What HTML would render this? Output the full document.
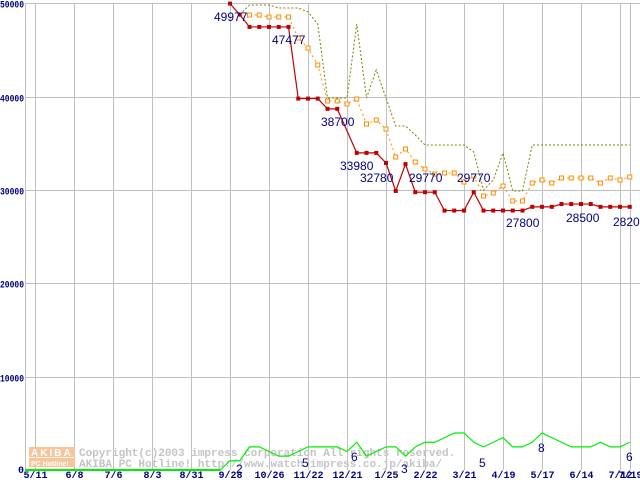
<!DOCTYPE html>
<html><head><meta charset="utf-8"><style>
body{margin:0;background:#fff;width:640px;height:480px;overflow:hidden}
svg{display:block}
.ax{font-family:"Liberation Mono",monospace;font-size:10px;font-weight:bold;fill:#000080}
.vl{font-family:"Liberation Sans",sans-serif;font-size:12px;fill:#000080}
.wm{font-family:"Liberation Mono",monospace;font-size:11px;font-weight:bold;fill:#c4c4c4}
</style></head><body>
<svg id="chart" width="640" height="480" xmlns="http://www.w3.org/2000/svg">
<g id="grid"></g>
<g id="wmk">
<rect x="29" y="447" width="46" height="10" fill="#f9c49a"/>
<rect x="29" y="458" width="46" height="9" fill="#f9c49a"/>
<text x="31" y="456" font-family="Liberation Sans,sans-serif" font-size="10" font-weight="bold" fill="#fff" letter-spacing="2">AKIBA</text>
<text x="31" y="466" font-family="Liberation Sans,sans-serif" font-size="7" font-weight="bold" fill="#fff">PC Hotline!</text>
<text class="wm" x="79" y="456">Copyright(c)2003 impress corporation All rights reserved.</text>
<text class="wm" x="79" y="467">AKIBA PC Hotline!  http://www.watch.impress.co.jp/akiba/</text>
</g>
<g id="series"></g>
<g id="labels"></g>
</svg>
<script>
const xTickLabels=["5/11","6/8","7/6","8/3","8/31","9/28","10/26","11/22","12/21","1/25","2/22","3/21","4/19","5/17","6/14","7/12","7/19"];
const xTickWeeks=[-20,-16,-12,-8,-4,0,4,8,12,16,20,24,28,32,36,40,41];
const yTicks=[0,10000,20000,30000,40000,50000];
const minPrice=[49977,48800,47477,47477,47477,47477,47477,39800,39800,39800,38700,38700,null,33980,33980,33980,32900,29900,32780,29770,29770,29770,27800,27800,27800,29770,27800,27800,27800,27800,27800,28200,28200,28200,28500,28500,28500,28500,28200,28200,28200,28200];
const avgPrice=[null,null,48757,48757,48543,48543,48543,46290,45220,43400,39540,39540,39220,39750,37080,37500,36540,33540,34400,33000,32250,31720,31830,31830,30860,31500,29360,29680,30430,28830,28830,30750,31080,30750,31290,31290,31290,31290,30750,31290,31080,31400];
const maxPrice=[null,48800,49830,49830,49830,49510,49510,49510,49080,47790,39860,39860,39860,47790,39860,42860,39860,36860,36860,35900,34830,34830,34830,34830,34830,34080,30000,31080,33970,29900,29900,34830,34830,34830,34830,34830,34830,34830,34830,34830,34830,34830];
const shopCount=[2,2,5,5,4,3,3,4,5,5,5,5,4,6,3,4,5,5,3,5,6,6,7,8,8,6,5,6,7,5,5,6,8,7,6,5,5,5,6,5,5,6];
const priceLabels=[[0,"49977",214,17],[2,"47477",272,40],[10,"38700",321,122],[13,"33980",340,166],[18,"32780",360,178],[19,"29770",409,178],[25,"29770",457,178],[28,"27800",506,223],[34,"28500",566,218],[41,"28200",613,222]];
const countLabels=[[1,236,469],[8,302,463],[13,351,457],[18,401,469],[26,479,463],[32,538,448],[41,626,457]];
const NS="http://www.w3.org/2000/svg";
const xw=i=>230+9.75*i, yv=v=>470-v*0.009332, yc=c=>470-c*4.625;
function mk(t,a,p){const e=document.createElementNS(NS,t);for(const k in a)e.setAttribute(k,a[k]);p.appendChild(e);return e;}
const grid=document.getElementById('grid'),ser=document.getElementById('series'),lab=document.getElementById('labels');
yTicks.forEach(v=>{const y=Math.round(yv(v))+0.5;
 if(v>0){const l=mk('line',{x1:25,x2:640,y1:y,y2:y,stroke:'#c0c0c0'},grid);
 
 }
 const attrs={x:24,y:v?y+4:473,class:'ax','text-anchor':'end'};
 if(v){attrs.textLength=24;attrs.lengthAdjust='spacingAndGlyphs';}
 const t=mk('text',attrs,grid);t.textContent=v;
 
 });
const lb=mk('line',{x1:25.5,x2:25.5,y1:4,y2:470,stroke:'#c0c0c0'},grid);


xTickWeeks.forEach((w,k)=>{const x=Math.round(xw(w))+0.5;
 const l=mk('line',{x1:x,x2:x,y1:4,y2:470,stroke:'#c0c0c0'},grid);
 
 
 const t=mk('text',{x:x,y:478,class:'ax','text-anchor':'middle'},grid);t.textContent=xTickLabels[k];
 
 });
function pts(arr,f){return arr.map((v,i)=>v==null?null:[xw(i),f(v)]).filter(p=>p);}
const gp=[[25,470],[xw(-1),470]].concat(pts(shopCount,yc));
const g=mk('polyline',{points:gp.map(p=>p.join(',')).join(' '),fill:'none',stroke:'#00ee00','stroke-width':1.2},ser);


const g0=mk('line',{x1:25,x2:xw(-1),y1:470,y2:470,stroke:'#00ee00','stroke-width':2},ser);


const mx=mk('polyline',{points:pts(maxPrice,yv).map(p=>p.join(',')).join(' '),fill:'none',stroke:'#808000','stroke-dasharray':'2,2'},ser);


const av=pts(avgPrice,yv);
const al=mk('polyline',{points:av.map(p=>p.join(',')).join(' '),fill:'none',stroke:'#ff8c00','stroke-dasharray':'2,3'},ser);


av.forEach(p=>{const r=mk('rect',{x:p[0]-2,y:p[1]-2,width:4,height:4,fill:'#fff',stroke:'#ff8c00'},ser);
 
 });
const mn=pts(minPrice,yv);
const ml=mk('polyline',{points:mn.map(p=>p.join(',')).join(' '),fill:'none',stroke:'#c00000','stroke-width':1.2},ser);


mn.forEach(p=>{const r=mk('rect',{x:p[0]-2,y:p[1]-2,width:4,height:4,fill:'#c00000'},ser);
 
 });
priceLabels.forEach(a=>{const t=mk('text',{x:a[2],y:a[3]+4,class:'vl'},lab);t.textContent=a[1];
 
 });
countLabels.forEach(a=>{const t=mk('text',{x:a[1],y:a[2]+4,class:'vl'},lab);t.textContent=shopCount[a[0]];
 
 });
</script>
</body></html>
